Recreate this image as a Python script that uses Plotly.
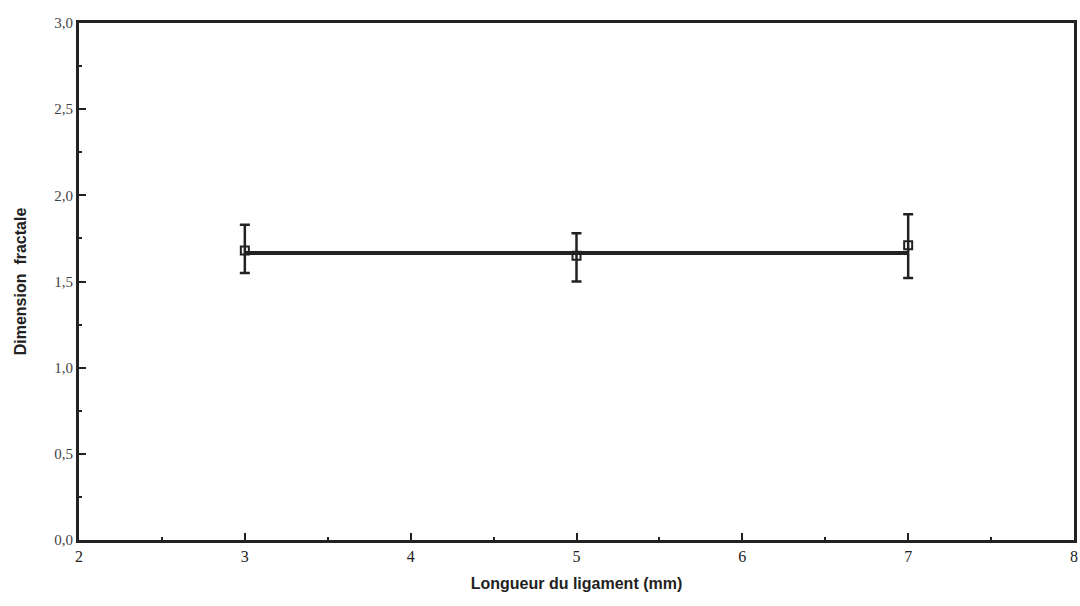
import plotly.graph_objects as go

ligament = [3, 5, 7]
dimension = [1.68, 1.65, 1.71]
err_plus = [0.15, 0.13, 0.18]
err_minus = [0.13, 0.15, 0.19]
fit_x = [3, 7]
fit_y = [1.665, 1.665]

fig = go.Figure()
fig.add_trace(go.Scatter(x=fit_x, y=fit_y, mode="lines",
                         line=dict(color="#222222", width=4), showlegend=False))
fig.add_trace(go.Scatter(
    x=ligament, y=dimension, mode="markers",
    marker=dict(symbol="square-open", size=8, color="#222222", line=dict(width=2)),
    error_y=dict(type="data", symmetric=False, array=err_plus, arrayminus=err_minus,
                 color="#222222", thickness=2.5, width=5),
    showlegend=False))

fig.update_layout(
    width=1080, height=606,
    margin=dict(l=79, r=6, t=23, b=66, autoexpand=False),
    paper_bgcolor="white", plot_bgcolor="white",
    separators=", ",
    xaxis=dict(range=[2, 8], tickmode="linear", dtick=1, tick0=2, automargin=False,
               ticks="inside", ticklen=7, tickwidth=2, tickcolor="#222222",
               minor=dict(ticks="inside", dtick=0.5, ticklen=3, tickwidth=2, tickcolor="#222222"),
               showgrid=False, zeroline=False,
               showline=True, linecolor="#222222", linewidth=3, mirror=True,
               tickfont=dict(family="Liberation Serif, Times New Roman, serif", size=16, color="#222222"),
               title=dict(text="<b>Longueur du ligament (mm)</b>",
                          font=dict(family="Liberation Sans, Arial, sans-serif", size=16, color="#222222"),
                          standoff=14)),
    yaxis=dict(range=[0, 3.0], tickmode="linear", dtick=0.5, tick0=0, tickformat=".1f", automargin=False,
               ticks="inside", ticklen=7, tickwidth=2, tickcolor="#222222",
               minor=dict(ticks="inside", dtick=0.25, ticklen=3, tickwidth=2, tickcolor="#222222"),
               showgrid=False, zeroline=False,
               showline=True, linecolor="#222222", linewidth=3, mirror=True,
               tickfont=dict(family="Liberation Serif, Times New Roman, serif", size=15, color="#444444"),
               title=dict(text="<b>Dimension  fractale</b>",
                          font=dict(family="Liberation Sans, Arial, sans-serif", size=16, color="#222222"),
                          standoff=24)),
)

fig.write_html("out.html", config={"displayModeBar": False},
               post_script="document.body.style.margin='0';document.body.style.overflow='hidden';")
